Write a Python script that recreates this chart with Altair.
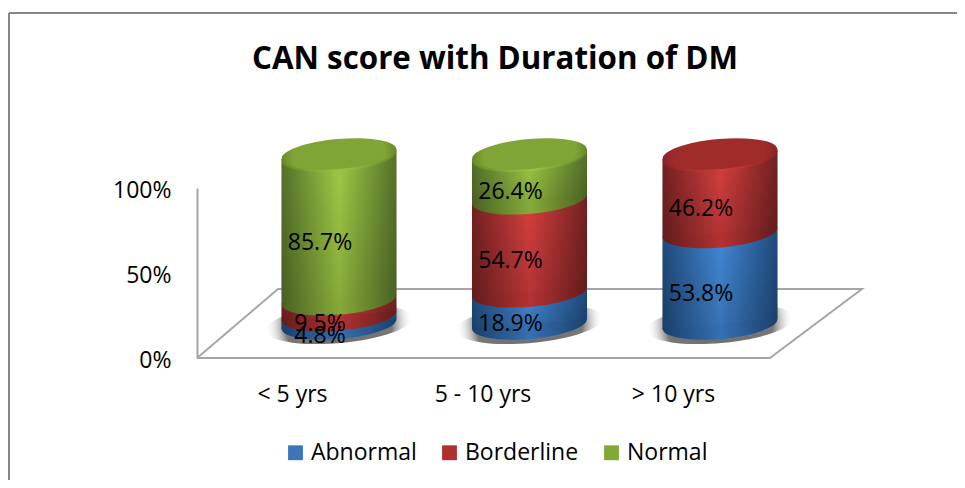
import altair as alt
import pandas as pd

categories = ["< 5 yrs", "5 - 10 yrs", "> 10 yrs"]
series = ["Abnormal", "Borderline", "Normal"]
abnormal = [4.8, 18.9, 53.8]
borderline = [9.5, 54.7, 46.2]
normal = [85.7, 26.4, 0.0]
values = {"Abnormal": abnormal, "Borderline": borderline, "Normal": normal}
floor_x = [-0.745, 2.262, 2.745, -0.32, -0.745]
floor_y = [0, 0, 40.6, 40.6, 0]

LIFT = 20
HALF = 0.302
SLANT = 3
RIM = 1.3
FONT = "Open Sans"

# edge, highlight, legend, bottom edge, bottom centre
PALETTE = {
    "Abnormal": ("#1f4b7d", "#4389d8", "#3a76b8", "#1b4069", "#3470b5"),
    "Borderline": ("#742121", "#d93f40", "#b03030", "#631c1c", "#b43233"),
    "Normal": ("#56722a", "#a2cc46", "#82a835", "#4a6222", "#86aa39"),
}
# cap centre, cap edge, rim
CAP = {"Borderline": ("#a02b2b", "#8a2424", "#cf3d3d"), "Normal": ("#80a435", "#68882a", "#9cc544")}


def grad(edge, mid):
    return {
        "gradient": "linear", "x1": 0, "y1": 0, "x2": 1, "y2": 0,
        "stops": [
            {"offset": 0, "color": edge},
            {"offset": 0.5, "color": mid},
            {"offset": 1, "color": edge},
        ],
    }


SHADE = {
    "gradient": "linear", "x1": 0, "y1": 0, "x2": 0, "y2": 1,
    "stops": [
        {"offset": 0, "color": "rgba(0,0,0,0)"},
        {"offset": 1, "color": "rgba(0,0,0,0.17)"},
    ],
}

seg_rows, area_rows, label_rows, cap_rows = [], [], [], []
for i, c in enumerate(categories):
    start = 0.0
    for s in series:
        v = values[s][i]
        if v <= 0:
            continue
        end = start + v
        seg_rows.append({"pos": i, "series": s, "y": start + LIFT})
        for side, sign in ((-HALF, -1), (HALF, 1)):
            area_rows.append({
                "pos": i + side, "series": s, "id": f"{i}-{s}",
                "lo": start + LIFT + sign * SLANT,
                "hi": end + LIFT + sign * SLANT,
            })
        label_rows.append({"pos": i, "y": (start + end) / 2, "label": f"{v:.1f}%"})
        start = end
        top_series = s
    cap_rows.append({"pos": i, "series": top_series, "y": start + LIFT, "rim": start + LIFT - RIM})

segs = pd.DataFrame(seg_rows)
areas = pd.DataFrame(area_rows)
labels = pd.DataFrame(label_rows)
caps = pd.DataFrame(cap_rows)
floor = pd.DataFrame({"x": floor_x, "y": floor_y, "o": range(len(floor_x))})
base = pd.DataFrame({"pos": range(len(categories)), "y": [LIFT] * len(categories), "cat": categories})

xscale = alt.Scale(domain=[0, 2], range=[331, 712])
xs = alt.X("pos:Q", scale=xscale, axis=None)
yscale = alt.Scale(domain=[0, 100], range=[350, 180])
yaxis = alt.Axis(values=[0, 50, 100], labelExpr="datum.value + '%'", title=None, grid=False, ticks=False,
                 domainColor="#a6a6a6", domainWidth=2, offset=-189, labelPadding=26,
                 labelFont=FONT, labelFontSize=23, labelColor="#000000", labelOffset=2)
ELLIPSE = "M-1,0A1,0.26,0,1,1,1,0A1,0.26,0,1,1,-1,0Z"
ys = alt.Y("y:Q", scale=yscale, axis=yaxis, title=None)

frame = pd.DataFrame({"k": [0]})
frame_top = alt.Chart(frame).mark_rule(color="#868686", strokeWidth=2).encode(
    x=alt.value(1), x2=alt.value(949), y=alt.value(5))
frame_left = alt.Chart(frame).mark_rule(color="#868686", strokeWidth=2).encode(
    x=alt.value(1), y=alt.value(5), y2=alt.value(472))

cat_axis = alt.Chart(base).mark_point(opacity=0).encode(
    x=alt.X("cat:N", sort=categories,
            scale=alt.Scale(type="point", domain=categories, range=[284, 665], padding=0),
            axis=alt.Axis(title=None, labelAngle=0, domain=False, ticks=False, grid=False,
                          orient="bottom", offset=-97, labelPadding=0,
                          labelFont=FONT, labelFontSize=23, labelColor="#000000")),
    y=ys,
)

floor_layer = alt.Chart(floor).mark_line(color="#a6a6a6", strokeWidth=2).encode(
    x=alt.X("x:Q", scale=xscale, axis=None),
    y=ys, order="o:Q")

shadow = alt.Chart(base).mark_point(
    shape=ELLIPSE, size=147**2, filled=True, opacity=1, strokeWidth=0, angle=355,
    fill={"gradient": "radial", "x1": 0.5, "y1": 0.5, "r1": 0, "x2": 0.5, "y2": 0.5, "r2": 0.5,
          "stops": [{"offset": 0, "color": "#6e6e6e"}, {"offset": 0.72, "color": "#777777"},
                    {"offset": 1, "color": "rgba(255,255,255,0)"}]},
).encode(x=xs, y=ys)

layers = [frame_top, frame_left, cat_axis, floor_layer, shadow]

legend_layer = alt.Chart(segs).mark_point(
    shape=ELLIPSE, size=115**2, filled=True, opacity=1, strokeWidth=0, angle=355).encode(
    x=xs, y=ys,
    color=alt.Color("series:N", sort=series,
                    scale=alt.Scale(domain=series, range=[PALETTE[s][2] for s in series]),
                    legend=alt.Legend(
                        title=None, orient="none", legendX=276, legendY=433, direction="horizontal",
                        symbolType="square", symbolSize=220, symbolOpacity=1,
                        labelFont=FONT, labelFontSize=23, labelColor="#000000",
                        labelOffset=4, columnPadding=21, labelLimit=200)),
)
layers.append(legend_layer)

for s in series:
    edge, mid, _, low_edge, low_mid = PALETTE[s]
    layers.append(alt.Chart(segs[segs.series == s]).mark_point(
        shape=ELLIPSE, size=115**2, filled=True, opacity=1, strokeWidth=0, angle=355,
        fill=grad(low_edge, low_mid)
    ).encode(x=xs, y=ys))
    for fill in (grad(edge, mid), SHADE):
        layers.append(alt.Chart(areas[areas.series == s]).mark_area(fill=fill, opacity=1).encode(
            x=xs,
            y=alt.Y("lo:Q", scale=yscale, axis=yaxis, stack=None, title=None),
            y2="hi:Q",
            detail="id:N",
        ))

for s, (mid, edge, rim) in CAP.items():
    d = caps[caps.series == s]
    if len(d):
        layers.append(alt.Chart(d).mark_point(
            shape=ELLIPSE, size=115**2, filled=True, opacity=1, strokeWidth=0, angle=355,
            fill=grad(edge, rim),
        ).encode(x=xs, y=alt.Y("rim:Q", scale=yscale, axis=yaxis, title=None)))
        layers.append(alt.Chart(d).mark_point(
            shape=ELLIPSE, size=115**2, filled=True, opacity=1, strokeWidth=0, angle=355,
            fill={"gradient": "radial", "x1": 0.5, "y1": 0.5, "r1": 0, "x2": 0.5, "y2": 0.5, "r2": 0.5,
                  "stops": [{"offset": 0, "color": mid}, {"offset": 0.8, "color": mid},
                            {"offset": 1, "color": edge}]},
        ).encode(x=xs, y=ys))

text_layer = alt.Chart(labels).mark_text(
    font=FONT, fontSize=23, color="#000000", dx=-19, dy=-18, baseline="middle", align="center"
).encode(x=xs, y=ys, text="label:N")
layers.append(text_layer)

chart = alt.layer(*layers).resolve_scale(x="independent").properties(
    width=949, height=472, padding=0, background="#ffffff",
    autosize=alt.AutoSizeParams(type="none"),
    title=alt.TitleParams("CAN score with Duration of DM", font=FONT, fontSize=31.3, fontWeight="bold",
                          color="#000000", anchor="start", offset=-67, dx=244),
).configure_view(stroke=None)

chart.save("out.html", embed_options={"renderer": "svg", "actions": False})
